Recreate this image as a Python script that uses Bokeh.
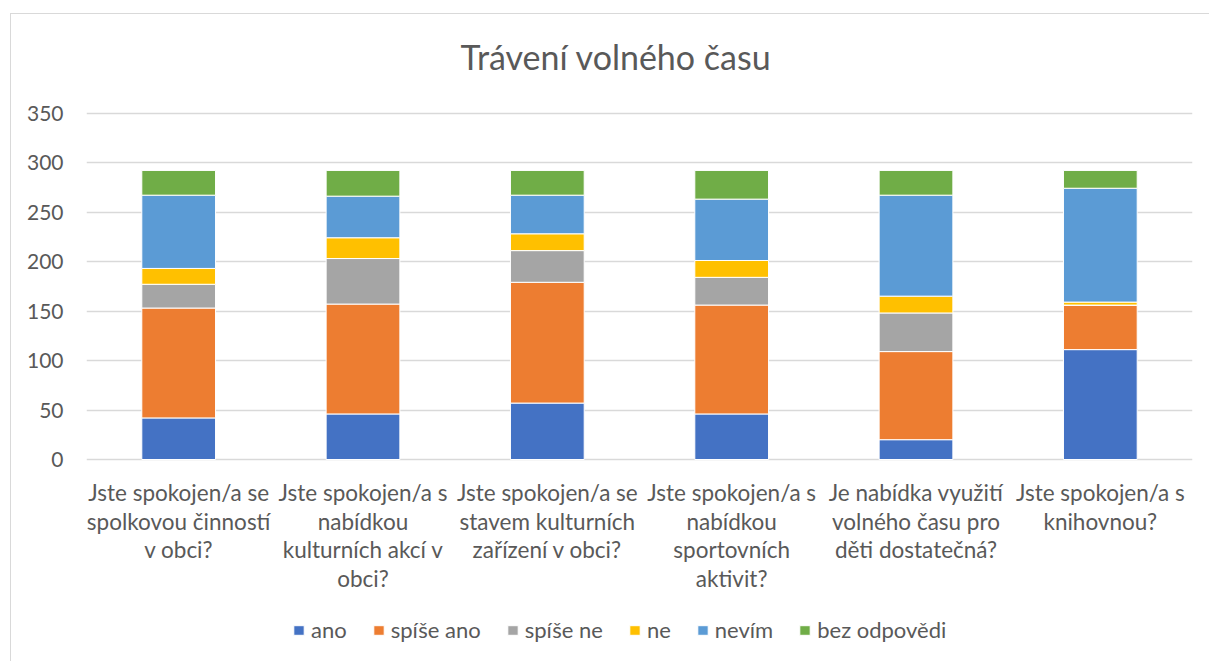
from bokeh.plotting import figure
from bokeh.models import (ColumnDataSource, FixedTicker, Legend, LegendItem, FactorRange, Range1d,
                          LabelSet, Label)
from bokeh.core.properties import value
from bokeh.embed import file_html
from bokeh.resources import INLINE

# ---------------- data ----------------
categories = [
    "Jste spokojen/a se spolkovou činností v obci?",
    "Jste spokojen/a s nabídkou kulturních akcí v obci?",
    "Jste spokojen/a se stavem kulturních zařízení v obci?",
    "Jste spokojen/a s nabídkou sportovních aktivit?",
    "Je nabídka využití volného času pro děti dostatečná?",
    "Jste spokojen/a s knihovnou?",
]
category_lines = [
    ["Jste spokojen/a se", "spolkovou činností", "v obci?"],
    ["Jste spokojen/a s", "nabídkou", "kulturních akcí v", "obci?"],
    ["Jste spokojen/a se", "stavem kulturních", "zařízení v obci?"],
    ["Jste spokojen/a s", "nabídkou", "sportovních", "aktivit?"],
    ["Je nabídka využití", "volného času pro", "děti dostatečná?"],
    ["Jste spokojen/a s", "knihovnou?"],
]
series_names = ["ano", "spíše ano", "spíše ne", "ne", "nevím", "bez odpovědi"]
ano = [42, 46, 57, 46, 20, 111]
spise_ano = [111, 111, 122, 110, 89, 45]
spise_ne = [24, 46, 32, 28, 39, 0]
ne = [16, 21, 17, 17, 17, 3]
nevim = [74, 42, 39, 62, 102, 115]
bez_odpovedi = [25, 26, 25, 29, 25, 18]
y_ticks = [0, 50, 100, 150, 200, 250, 300, 350]
title_text = "Trávení volného času"

colors = ["#4472C4", "#ED7D31", "#A5A5A5", "#FFC000", "#5B9BD5", "#70AD47"]
FONT = "Lato"
TXT = "#595959"
FS = "21px"

keys = ["s0", "s1", "s2", "s3", "s4", "s5"]
source = ColumnDataSource(dict(cat=categories, s0=ano, s1=spise_ano, s2=spise_ne,
                               s3=ne, s4=nevim, s5=bez_odpovedi))

# frame covers whole canvas height; value axis 0..350 occupies the middle part
p = figure(x_range=FactorRange(*categories, range_padding=0, factor_padding=0),
           y_range=Range1d(-205.05, 449.5),
           width=1199, height=648, output_backend="svg", toolbar_location=None,
           min_border_left=75, min_border_right=18, min_border_top=0, min_border_bottom=0)
p.styles = {"margin-left": "10px", "margin-top": "13px",
            "border-left": "1px solid #d9d9d9", "border-top": "1px solid #d9d9d9"}
p.outline_line_color = None
p.background_fill_color = "white"
p.border_fill_color = "white"

renderers = p.vbar_stack(keys, x="cat", width=0.4, source=source, color=colors,
                         line_color="white", line_width=1)

p.xaxis.visible = False
p.xgrid.visible = False
p.ygrid.grid_line_color = "#d9d9d9"
p.ygrid.grid_line_width = 1.3
p.yaxis.ticker = FixedTicker(ticks=y_ticks)
p.yaxis.axis_line_color = None
p.yaxis.major_tick_line_color = None
p.yaxis.minor_tick_line_color = None
p.yaxis.major_tick_out = 0
p.yaxis.major_label_standoff = 23
p.yaxis.major_label_text_font = FONT
p.yaxis.major_label_text_font_size = FS
p.yaxis.major_label_text_color = TXT

# category labels (multi-line, below the bars)
lx, ltxt, loff = [], [], []
for cat, lines in zip(categories, category_lines):
    for i, ln in enumerate(lines):
        lx.append(cat)
        ltxt.append(ln)
        loff.append(-33 - i * 28.7)
lab_src = ColumnDataSource(dict(x=lx, y=[0] * len(lx), text=ltxt, yoff=loff))
p.add_layout(LabelSet(x="x", y="y", text="text", y_offset="yoff", source=lab_src,
                      text_align="center", text_baseline="middle", text_font=value(FONT),
                      text_font_size=value("22.5px"), text_color=value(TXT)))

# title
p.add_layout(Label(x=529.5, y=606, x_units="screen", y_units="screen", text=title_text,
                   text_align="center", text_baseline="middle", text_font=FONT,
                   text_font_size="34px", text_color=TXT))

legend = Legend(items=[LegendItem(label=n, renderers=[r]) for n, r in zip(series_names, renderers)],
                orientation="horizontal", location=(206, 19), glyph_width=13, glyph_height=12,
                label_text_font=FONT, label_text_font_size="22px", label_text_color=TXT,
                padding=0, margin=0, spacing=25, label_standoff=6, border_line_color=None,
                background_fill_alpha=0, label_height=22)
p.add_layout(legend)

open("out.html", "w").write(file_html(p, INLINE))
